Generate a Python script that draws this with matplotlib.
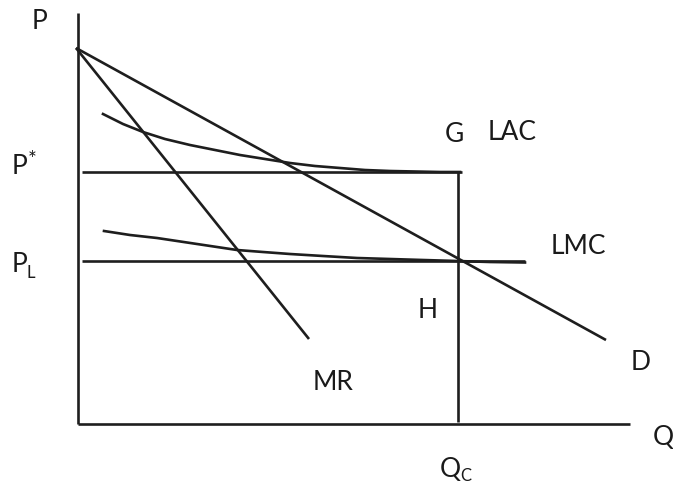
import matplotlib
matplotlib.use("Agg")
import matplotlib.pyplot as plt

# ---- data (economic units: Q along x, P along y) ----
p_intercept = 37.6          # demand / MR intercept on P axis
d_end = (52.8, 8.4)         # end point of demand line D
mr_end = (23.1, 8.5)        # end point of MR line
p_star = 25.2               # P*
p_l = 16.3                  # P_L
q_c = 38.0                  # Q_C
pstar_line_end = 38.4
pl_line_end = 44.7
p_axis_top = 41.1
q_axis_end = 55.2

lac_q = [2.5, 4.5, 6.5, 8.7, 11.2, 13.7, 16.2, 18.7, 21.2, 23.7, 26.2, 28.7,
         31.2, 33.7, 36.2, 38.2]
lac_p = [31.0, 30.0, 29.2, 28.5, 27.9, 27.4, 26.9, 26.5, 26.1, 25.8, 25.6, 25.4,
         25.3, 25.25, 25.2, 25.2]

lmc_q = [2.6, 5.2, 7.9, 11.9, 15.9, 18.5, 21.2, 24.5, 27.9, 31.2, 34.5, 37.9,
         41.2, 44.7]
lmc_p = [19.3, 18.9, 18.6, 18.0, 17.4, 17.2, 17.0, 16.8, 16.6, 16.5, 16.4, 16.3,
         16.2, 16.15]

# ---- figure ----
W, H = 673, 486
fig = plt.figure(figsize=(W / 100, H / 100), dpi=100)
ax = fig.add_axes([0, 0, 1, 1])
ox, oy, s = 78, 424, 10.0
ax.set_xlim(-ox / s, (W - ox) / s)
ax.set_ylim((oy - H) / s, oy / s)
ax.axis("off")

lc = "#1e1e1e"
lw = 1.9
kw = dict(color=lc, lw=lw, solid_capstyle="butt")

# axes
ax.plot([0, 0], [0, p_axis_top], **kw)
ax.plot([0, q_axis_end], [0, 0], **kw)
# demand and MR
ax.plot([-0.2, d_end[0]], [p_intercept, d_end[1]], **kw)
ax.plot([-0.2, mr_end[0]], [p_intercept, mr_end[1]], **kw)
# price lines
ax.plot([0.4, pstar_line_end], [p_star, p_star], **kw)
ax.plot([0.4, pl_line_end], [p_l, p_l], **kw)
ax.plot([q_c, q_c], [0.2, p_star], **kw)
# cost curves
ax.plot(lac_q, lac_p, color=lc, lw=lw, solid_joinstyle="round")
ax.plot(lmc_q, lmc_p, color=lc, lw=lw, solid_joinstyle="round")

# ---- labels (placed by pixel position) ----
fam = ["Lato", "DejaVu Sans"]
tc = "#1a1a1a"
fs = 19
sfs = 12


def label(txt, x, y, size=fs, ha="center", va="center"):
    ax.text((x - ox) / s, (oy - y) / s, txt, fontsize=size, family=fam,
            color=tc, ha=ha, va=va)


label("P", 39, 22)
label("P", 20, 166)
label("*", 32, 160, size=15)
label("P", 19, 265)
label("L", 31, 273, size=sfs)
label("G", 454, 134)
label("LAC", 512, 133)
label("LMC", 578, 246)
label("H", 428, 311)
label("MR", 333, 382)
label("D", 641, 362)
label("Q", 663, 437)
label("Q", 450, 469)
label("C", 466, 476, size=sfs)

fig.savefig("out.png", dpi=100)
